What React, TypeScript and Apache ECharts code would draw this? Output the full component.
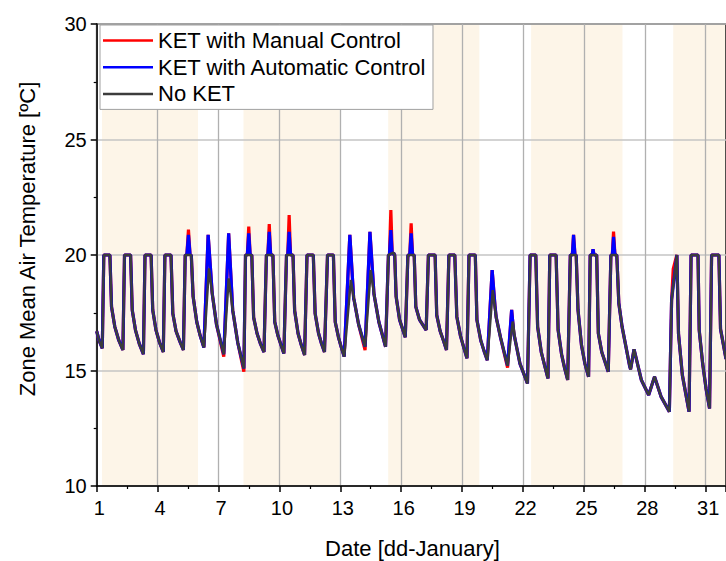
import React, { useEffect, useRef } from "react";
import * as echarts from "echarts";

// x = day of January (fractional), y = zone mean air temperature [ºC]
const noKet: [number, number][] = [
  [1.0, 16.7], [1.12, 16.3], [1.275, 15.96],
  [1.35, 20], [1.65, 20], [1.73, 17.76], [1.89, 16.9], [2.09, 16.3], [2.29, 15.89],
  [2.37, 20], [2.67, 20], [2.75, 17.62], [2.91, 16.75], [3.1, 16.15], [3.3, 15.71],
  [3.38, 20], [3.68, 20], [3.76, 17.62], [3.92, 16.75], [4.1, 16.2], [4.28, 15.8],
  [4.36, 20], [4.66, 20], [4.75, 17.47], [4.91, 16.7], [5.1, 16.25], [5.27, 15.89],
  [5.36, 20], [5.66, 20], [5.75, 18.2], [5.93, 17.1], [6.1, 16.5], [6.28, 16.0],
  [6.53, 19.42], [6.69, 18.34], [6.9, 17.0], [7.26, 15.71],
  [7.5, 18.99], [7.72, 17.5], [7.95, 16.2], [8.25, 15.09],
  [8.33, 20], [8.64, 20], [8.73, 17.3], [8.9, 16.6], [9.07, 16.15], [9.24, 15.8],
  [9.36, 20], [9.68, 20], [9.77, 17.1], [9.93, 16.5], [10.08, 16.1], [10.22, 15.74],
  [10.35, 20], [10.67, 20], [10.75, 17.6], [10.92, 16.6], [11.08, 16.1], [11.24, 15.67],
  [11.36, 20], [11.67, 20], [11.76, 17.47], [11.93, 16.6], [12.08, 16.15], [12.22, 15.8],
  [12.37, 20], [12.66, 20], [12.75, 17.1], [12.92, 16.4], [13.05, 16.0], [13.19, 15.6],
  [13.52, 18.92], [13.68, 18.05], [13.9, 17.0], [14.22, 16.03],
  [14.5, 19.35], [14.68, 18.2], [14.9, 17.1], [15.23, 16.03],
  [15.37, 20], [15.62, 20.1], [15.68, 20], [15.75, 18.2], [15.92, 17.2], [16.2, 16.44],
  [16.33, 20], [16.64, 20], [16.72, 17.76], [16.9, 17.2], [17.23, 16.75],
  [17.34, 20], [17.67, 20], [17.75, 17.4], [17.92, 16.7], [18.08, 16.3], [18.23, 15.89],
  [18.35, 20], [18.64, 20], [18.74, 17.33], [18.92, 16.5], [19.08, 16.0], [19.24, 15.53],
  [19.34, 20], [19.65, 20], [19.73, 17.19], [19.92, 16.3], [20.08, 15.85], [20.24, 15.45],
  [20.51, 18.48], [20.68, 17.3], [20.9, 16.4], [21.24, 15.21],
  [21.49, 17.12], [21.62, 16.3], [21.85, 15.3], [22.22, 14.44],
  [22.35, 20], [22.63, 20], [22.72, 16.9], [22.9, 15.8], [23.07, 15.2], [23.23, 14.66],
  [23.32, 20], [23.63, 20], [23.73, 16.75], [23.9, 15.7], [24.05, 15.1], [24.2, 14.59],
  [24.33, 20], [24.62, 20], [24.71, 17.62], [24.88, 16.1], [25.05, 15.3], [25.23, 14.73],
  [25.31, 20], [25.63, 20], [25.71, 16.61], [25.88, 15.8], [26.05, 15.35], [26.2, 14.95],
  [26.33, 20], [26.62, 20], [26.72, 17.91], [26.88, 16.9], [27.26, 15.17],
  [27.3, 15.05], [27.47, 15.92], [27.83, 14.59], [28.19, 13.94],
  [28.48, 14.73], [28.8, 13.87], [29.21, 13.22],
  [29.32, 18.05], [29.58, 20], [29.66, 16.6], [29.85, 14.8], [30.18, 13.22],
  [30.28, 20], [30.62, 20], [30.68, 16.75], [30.85, 15.3], [31.02, 14.2], [31.19, 13.36],
  [31.29, 20], [31.65, 20], [31.73, 16.8], [32, 15.5],
];

// segments where "KET with Automatic Control" departs from "No KET"
const autoPatches: [number, number][][] = [
  [[5.44, 20], [5.52, 20.87], [5.6, 20]],
  [[6.28, 16.0], [6.49, 20.87], [6.69, 18.34]],
  [[7.26, 15.71], [7.5, 20.94], [7.7, 17.6]],
  [[8.42, 20], [8.49, 20.94], [8.56, 20]],
  [[9.43, 20], [9.5, 21.0], [9.57, 20]],
  [[10.41, 20], [10.48, 21.0], [10.55, 20]],
  [[13.19, 15.6], [13.47, 20.87], [13.66, 18.1]],
  [[14.22, 16.03], [14.46, 21.0], [14.66, 18.3]],
  [[15.42, 20], [15.49, 21.08], [15.56, 20]],
  [[16.42, 20], [16.49, 20.94], [16.56, 20]],
  [[20.24, 15.45], [20.48, 19.35], [20.62, 17.8]],
  [[21.24, 15.21], [21.44, 17.62], [21.55, 16.6]],
  [[24.43, 20], [24.49, 20.87], [24.56, 20]],
  [[25.41, 20], [25.45, 20.25], [25.5, 20]],
  [[26.4, 20], [26.46, 20.79], [26.53, 20]],
];

// segments where "KET with Manual Control" departs from the automatic one
const manualPatches: [number, number][][] = [
  [[5.44, 20], [5.52, 21.1], [5.6, 20]],
  [[7.26, 15.6]],
  [[8.25, 14.95]],
  [[8.42, 20], [8.49, 21.23], [8.56, 20]],
  [[9.43, 20], [9.5, 21.34], [9.57, 20]],
  [[10.41, 20], [10.48, 21.73], [10.55, 20]],
  [[14.22, 15.88]],
  [[15.42, 20], [15.49, 21.95], [15.56, 20]],
  [[16.42, 20], [16.49, 21.37], [16.56, 20]],
  [[21.24, 15.12]],
  [[26.4, 20], [26.46, 21.01], [26.53, 20]],
  [[29.4, 19.4]],
];

// shaded (working-day) bands, in days
const shadedBands: [number, number][] = [
  [1.26, 5.99], [8.23, 12.97], [15.36, 19.85], [22.4, 26.9], [29.4, 32],
];

const seriesNames = ["KET with Manual Control", "KET with Automatic Control", "No KET"];
const seriesColors = ["#ff0000", "#0000ff", "#3c3c3c"];
const seriesWidths = [3.2, 3.2, 2.5];

function overlay(base: [number, number][], patches: [number, number][][]) {
  let out = base.slice();
  for (const p of patches) {
    const x0 = p[0][0];
    const x1 = p[p.length - 1][0];
    out = out.filter((q) => q[0] < x0 || q[0] > x1).concat(p);
    out.sort((a, b) => a[0] - b[0]);
  }
  return out;
}

const FONT = "'Liberation Sans', Arial, sans-serif";

export default function App() {
  const ref = useRef<HTMLDivElement>(null);
  useEffect(() => {
    const chart = echarts.init(ref.current!, null, { renderer: "svg" });
    const auto = overlay(noKet, autoPatches);
    const manual = overlay(auto, manualPatches);
    const data = [manual, auto, noKet];
    const option: any = {
      animation: false,
      backgroundColor: "#ffffff",
      textStyle: { fontFamily: FONT },
      grid: {
        left: 96.7,
        top: 24,
        bottom: 75,
        right: -6.6,
        show: true,
        borderColor: "#000",
        borderWidth: 1.5,
      },
      legend: {
        data: seriesNames,
        orient: "vertical",
        left: 100,
        top: 25,
        padding: [3.5, 6, 3.5, 3],
        icon: "rect",
        itemWidth: 50,
        itemHeight: 2.5,
        itemGap: 2.7,
        backgroundColor: "#ffffff",
        borderColor: "#a0a0a0",
        borderWidth: 1,
        textStyle: { fontSize: 22, lineHeight: 24, color: "#000", fontFamily: FONT },
        z: 10,
      },
      xAxis: {
        type: "value",
        min: 1,
        max: 32,
        interval: 3,
        axisLine: { lineStyle: { color: "#000", width: 1.5 } },
        axisTick: { length: 6, lineStyle: { color: "#000", width: 1.5 } },
        minorTick: { show: true, splitNumber: 2, length: 3, lineStyle: { color: "#000", width: 1.2 } },
        splitLine: { show: true, lineStyle: { color: "#b0b0b0", width: 1.3 } },
        axisLabel: {
          fontSize: 20,
          color: "#000",
          margin: 12,
          showMaxLabel: false,
          fontFamily: FONT,
          padding: [0, 0, 0, 5],
        },
      },
      yAxis: {
        type: "value",
        min: 10,
        max: 30,
        interval: 5,
        axisLine: { lineStyle: { color: "#000", width: 1.5 } },
        axisTick: { length: 6, lineStyle: { color: "#000", width: 1.5 } },
        minorTick: { show: true, splitNumber: 2, length: 3, lineStyle: { color: "#000", width: 1.2 } },
        splitLine: { show: true, lineStyle: { color: "#c4c4c4", width: 1.5 } },
        axisLabel: { fontSize: 20, color: "#000", margin: 10, fontFamily: FONT },
      },
      graphic: [
        {
          type: "text",
          x: 27,
          y: 239,
          rotation: Math.PI / 2,
          style: {
            text: "Zone Mean Air Temperature [ºC]",
            fontSize: 22,
            fontFamily: FONT,
            fill: "#000",
            align: "center",
            verticalAlign: "middle",
          },
        },
        {
          type: "text",
          x: 412.5,
          y: 548,
          style: {
            text: "Date [dd-January]",
            fontSize: 22,
            fontFamily: FONT,
            fill: "#000",
            align: "center",
            verticalAlign: "middle",
          },
        },
      ],
      series: [
        {
          name: "bands",
          type: "line",
          data: [],
          silent: true,
          markArea: {
            silent: true,
            z: -1,
            itemStyle: { color: "#fdf5e8" },
            data: shadedBands.map((b) => [{ xAxis: b[0] }, { xAxis: b[1] }]),
          },
        },
        ...seriesNames.map((name, i) => ({
          name,
          type: "line",
          data: data[i],
          symbol: "none",
          showSymbol: false,
          lineStyle: { color: seriesColors[i], width: seriesWidths[i] },
          itemStyle: { color: seriesColors[i] },
          z: 2 + i,
        })),
      ],
    };
    chart.setOption(option);
    return () => chart.dispose();
  }, []);
  return (
    <div
      ref={ref}
      style={{ position: "fixed", left: 0, top: 0, width: 726, height: 561 }}
    />
  );
}
